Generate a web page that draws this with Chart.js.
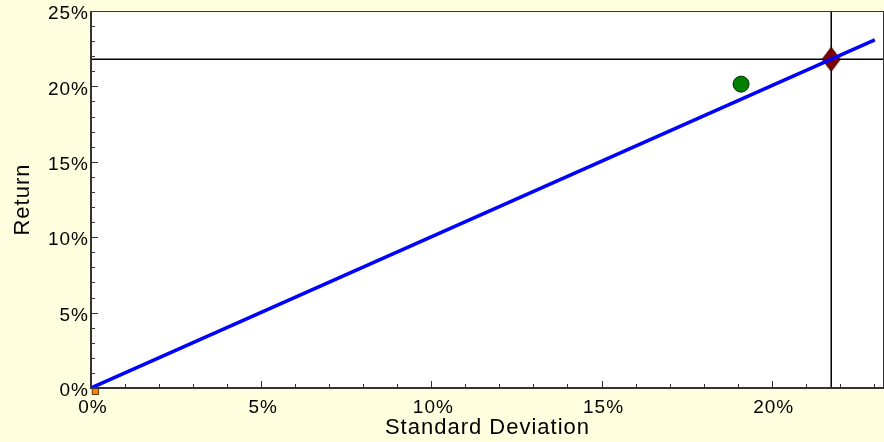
<!DOCTYPE html>
<html>
<head>
<meta charset="utf-8">
<script src="https://cdn.jsdelivr.net/npm/chart.js@4.4.0/dist/chart.umd.min.js"></script>
<style>
  html, body { margin: 0; padding: 0; background: #FFFFE0; }
</style>
</head>
<body>
<canvas id="riskChart" width="884" height="442"></canvas>
<script>
// axis titles and ranges
const xTitle = 'Standard Deviation';
const yTitle = 'Return';
const xRange = [0, 23.3];
const yRange = [0, 25];

// capital market line (std dev %, return %)
const lineStdev = [0, 23.03];
const lineReturn = [0, 23.08];

// single asset (green circle)
const assetStdev = [19.1];
const assetReturn = [20.15];

// optimal portfolio (red diamond) + crosshair position
const portStdev = [21.75];
const portReturn = [21.8];

// risk free point (orange)
const rfStdev = [0.13];
const rfReturn = [-0.22];

const toPoints = (xs, ys) => xs.map((x, i) => ({ x: x, y: ys[i] }));
const noPadding = () => ({ left: 0, top: 0, right: 0, bottom: 0 });

// tall diamond marker
function diamond(w, h) {
  const c = document.createElement('canvas');
  c.width = w + 2;
  c.height = h + 2;
  const g = c.getContext('2d');
  g.beginPath();
  g.moveTo(c.width / 2, 1);
  g.lineTo(c.width - 1, c.height / 2);
  g.lineTo(c.width / 2, c.height - 1);
  g.lineTo(1, c.height / 2);
  g.closePath();
  g.fillStyle = '#800000';
  g.fill();
  g.strokeStyle = '#200000';
  g.lineWidth = 1;
  g.stroke();
  return c;
}

const frame = {
  id: 'frame',
  beforeDraw(chart) {
    const { ctx, chartArea: a } = chart;
    ctx.save();
    ctx.fillStyle = '#FFFFE0';
    ctx.fillRect(0, 0, chart.width, chart.height);
    ctx.fillStyle = '#ffffff';
    ctx.fillRect(a.left, a.top, a.right - a.left, a.bottom - a.top);
    ctx.restore();
    ctx.letterSpacing = '1px';
  },
  afterDraw(chart) {
    const { ctx, chartArea: a } = chart;
    const xs = chart.scales.x, ys = chart.scales.y;
    ctx.save();
    ctx.letterSpacing = '0px';
    ctx.strokeStyle = '#333333';
    ctx.lineWidth = 1;
    ctx.strokeRect(a.left + 0.5, a.top + 0.5, a.right - a.left - 1, a.bottom - a.top - 1);
    ctx.lineWidth = 2;
    ctx.beginPath();
    ctx.moveTo(a.left, a.top);
    ctx.lineTo(a.left, a.bottom);
    ctx.lineTo(a.right, a.bottom);
    ctx.stroke();
    ctx.lineWidth = 1;
    ctx.beginPath();
    for (let v = 1; v <= xRange[1]; v++) {
      const px = Math.round(xs.getPixelForValue(v)) + 0.5;
      ctx.moveTo(px, a.bottom);
      ctx.lineTo(px, a.bottom - (v % 5 === 0 ? 7 : 4));
    }
    for (let v = 1; v <= yRange[1]; v++) {
      const py = Math.round(ys.getPixelForValue(v)) + 0.5;
      ctx.moveTo(a.left, py);
      ctx.lineTo(a.left + (v % 5 === 0 ? 7 : 4), py);
    }
    ctx.stroke();
    ctx.restore();
  }
};

const tickFont = { family: 'Liberation Sans, Arial, sans-serif', size: 19 };
const titleFont = { family: 'Liberation Sans, Arial, sans-serif', size: 22 };
const pct = (v) => (v % 5 === 0 ? v + '%' : null);

new Chart(document.getElementById('riskChart'), {
  type: 'scatter',
  data: {
    datasets: [
      {
        label: 'Capital market line',
        data: toPoints(lineStdev, lineReturn),
        showLine: true,
        borderColor: '#0000ff',
        borderWidth: 3.5,
        pointRadius: 0,
        order: 0,
      },
      {
        label: 'Asset',
        data: toPoints(assetStdev, assetReturn),
        pointRadius: 8,
        backgroundColor: '#008000',
        borderColor: '#003300',
        borderWidth: 1,
        order: 1,
      },
      {
        label: 'Portfolio',
        data: toPoints(portStdev, portReturn),
        pointStyle: diamond(18, 24),
        order: 1,
      },
      {
        label: 'Horizontal',
        data: toPoints(xRange, [portReturn[0], portReturn[0]]),
        showLine: true,
        borderColor: '#000000',
        borderWidth: 1.5,
        pointRadius: 0,
        order: 2,
      },
      {
        label: 'Vertical',
        data: toPoints([portStdev[0], portStdev[0]], yRange),
        showLine: true,
        borderColor: '#000000',
        borderWidth: 1.5,
        pointRadius: 0,
        order: 2,
      },
      {
        label: 'Risk free',
        data: toPoints(rfStdev, rfReturn),
        pointStyle: 'rect',
        pointRadius: 4.5,
        backgroundColor: '#ff8000',
        borderColor: '#553300',
        borderWidth: 1,
        clip: false,
        order: 3,
      },
    ],
  },
  options: {
    responsive: false,
    animation: false,
    devicePixelRatio: 1,
    layout: { autoPadding: false, padding: { top: 11, right: 0, bottom: 0, left: 0 } },
    plugins: {
      legend: { display: false },
      tooltip: { enabled: false },
    },
    scales: {
      x: {
        type: 'linear',
        min: xRange[0],
        max: xRange[1],
        afterBuildTicks(scale) {
          scale.ticks = scale.ticks.filter((t) => t.value % 5 === 0);
        },
        afterFit(scale) {
          scale.height = 54;
          scale.getPadding = noPadding;
        },
        grid: { display: false, drawTicks: false },
        border: { display: false },
        ticks: {
          stepSize: 5,
          color: '#000000',
          font: tickFont,
          padding: 8,
          labelOffset: 2,
          maxRotation: 0,
          callback: pct,
        },
        title: {
          display: true,
          text: xTitle,
          color: '#000000',
          font: titleFont,
          padding: { top: 0, bottom: 1 },
        },
      },
      y: {
        type: 'linear',
        min: yRange[0],
        max: yRange[1],
        afterFit(scale) {
          scale.width = 91;
          scale.getPadding = noPadding;
        },
        grid: { display: false, drawTicks: false },
        border: { display: false },
        ticks: {
          stepSize: 5,
          color: '#000000',
          font: tickFont,
          padding: 2,
          labelOffset: 3,
          callback: pct,
        },
        title: {
          display: true,
          text: yTitle,
          color: '#000000',
          font: titleFont,
          padding: { top: 10, bottom: 0 },
        },
      },
    },
  },
  plugins: [frame],
});
</script>
</body>
</html>
